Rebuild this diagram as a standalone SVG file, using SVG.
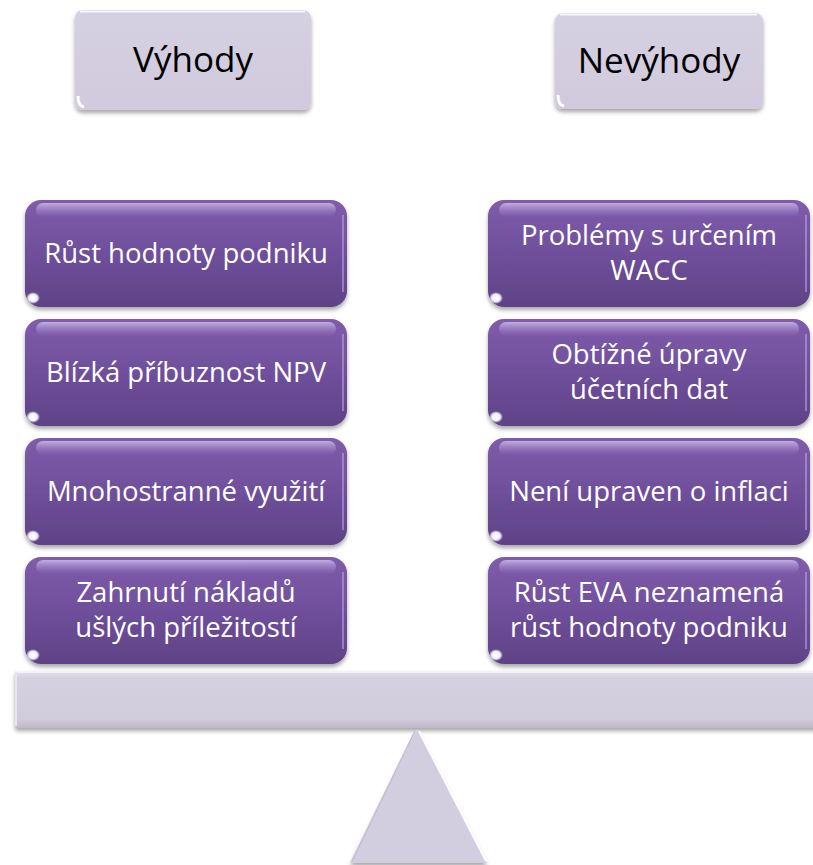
<svg xmlns="http://www.w3.org/2000/svg" width="813" height="865" viewBox="0 0 813 865">
  <defs>
    <linearGradient id="purpleFill" x1="0" y1="0" x2="0" y2="1">
      <stop offset="0" stop-color="#7f5cab"/>
      <stop offset="0.5" stop-color="#6f4f9b"/>
      <stop offset="1" stop-color="#5f4286"/>
    </linearGradient>
    <linearGradient id="gloss" x1="0" y1="0" x2="0" y2="1">
      <stop offset="0" stop-color="#c9b6e6" stop-opacity="0.9"/>
      <stop offset="1" stop-color="#a88ccf" stop-opacity="0"/>
    </linearGradient>
    <linearGradient id="lilacFill" x1="0" y1="0" x2="0" y2="1">
      <stop offset="0" stop-color="#d6d1e2"/>
      <stop offset="1" stop-color="#d0cadc"/>
    </linearGradient>
    <linearGradient id="barFill" x1="0" y1="0" x2="0" y2="1">
      <stop offset="0" stop-color="#e4e0ec"/>
      <stop offset="0.12" stop-color="#d6d1e1"/>
      <stop offset="0.85" stop-color="#d1ccdc"/>
      <stop offset="1" stop-color="#bdb7c9"/>
    </linearGradient>
    <radialGradient id="spot" cx="0.5" cy="0.5" r="0.5">
      <stop offset="0" stop-color="#ffffff"/>
      <stop offset="0.6" stop-color="#f4eefc"/>
      <stop offset="1" stop-color="#ffffff" stop-opacity="0"/>
    </radialGradient>
    <filter id="shadow" x="-10%" y="-10%" width="120%" height="130%">
      <feDropShadow dx="0" dy="3" stdDeviation="2.2" flood-color="#000" flood-opacity="0.35"/>
    </filter>
  </defs>
  <style>
    .head { fill: url(#lilacFill); filter: url(#shadow); }
    .headTxt { font-family: "Open Sans", "Liberation Sans", sans-serif; font-size: 35px; fill: #000; text-anchor: middle; }
    .card { fill: url(#purpleFill); filter: url(#shadow); }
    .gloss { fill: url(#gloss); }
    .edge { fill: none; stroke: #b9a2de; stroke-width: 1.5; stroke-opacity: 0.8; }
    .cardTxt { font-family: "Open Sans", "Liberation Sans", sans-serif; font-size: 27.5px; fill: #ffffff; text-anchor: middle; }
    .spot { fill: url(#spot); }
  </style>

  <!-- header: Výhody -->
  <g id="header-vyhody">
    <rect class="head" x="75" y="10" width="236" height="100" rx="8"/>
    <path d="M80 11.5 H305" stroke="#ffffff" stroke-width="2" opacity="0.8"/>
    <path d="M78 96 Q78 106 84 107" stroke="#ffffff" stroke-width="3" fill="none"/>
    <text class="headTxt" x="193" y="72">Výhody</text>
  </g>

  <!-- header: Nevýhody -->
  <g id="header-nevyhody">
    <rect class="head" x="555" y="13" width="208" height="96" rx="8"/>
    <path d="M560 14.5 H757" stroke="#ffffff" stroke-width="2" opacity="0.8"/>
    <path d="M558 95 Q558 105 564 106" stroke="#ffffff" stroke-width="3" fill="none"/>
    <text class="headTxt" x="659" y="73">Nevýhody</text>
  </g>

  <!-- advantages column -->
  <g id="adv-1">
    <rect class="card" x="25" y="200" width="322" height="107" rx="16"/>
    <rect class="gloss" x="36" y="203" width="300" height="14" rx="7"/>
    <path class="edge" d="M343 215 V292"/>
    <ellipse class="spot" cx="33" cy="298" rx="7" ry="6"/>
    <text class="cardTxt" x="186" y="263">Růst hodnoty podniku</text>
  </g>
  <g id="adv-2">
    <rect class="card" x="25" y="319" width="322" height="107" rx="16"/>
    <rect class="gloss" x="36" y="322" width="300" height="14" rx="7"/>
    <path class="edge" d="M343 334 V411"/>
    <ellipse class="spot" cx="33" cy="417" rx="7" ry="6"/>
    <text class="cardTxt" x="186" y="382">Blízká příbuznost NPV</text>
  </g>
  <g id="adv-3">
    <rect class="card" x="25" y="438" width="322" height="107" rx="16"/>
    <rect class="gloss" x="36" y="441" width="300" height="14" rx="7"/>
    <path class="edge" d="M343 453 V530"/>
    <ellipse class="spot" cx="33" cy="536" rx="7" ry="6"/>
    <text class="cardTxt" x="186" y="501">Mnohostranné využití</text>
  </g>
  <g id="adv-4">
    <rect class="card" x="25" y="557" width="322" height="107" rx="16"/>
    <rect class="gloss" x="36" y="560" width="300" height="14" rx="7"/>
    <path class="edge" d="M343 572 V649"/>
    <ellipse class="spot" cx="33" cy="655" rx="7" ry="6"/>
    <text class="cardTxt" x="186" y="602">Zahrnutí nákladů</text>
    <text class="cardTxt" x="186" y="637">ušlých příležitostí</text>
  </g>

  <!-- disadvantages column -->
  <g id="dis-1">
    <rect class="card" x="488" y="200" width="322" height="107" rx="16"/>
    <rect class="gloss" x="499" y="203" width="300" height="14" rx="7"/>
    <path class="edge" d="M806 215 V292"/>
    <ellipse class="spot" cx="496" cy="298" rx="7" ry="6"/>
    <text class="cardTxt" x="649" y="245">Problémy s určením</text>
    <text class="cardTxt" x="649" y="280">WACC</text>
  </g>
  <g id="dis-2">
    <rect class="card" x="488" y="319" width="322" height="107" rx="16"/>
    <rect class="gloss" x="499" y="322" width="300" height="14" rx="7"/>
    <path class="edge" d="M806 334 V411"/>
    <ellipse class="spot" cx="496" cy="417" rx="7" ry="6"/>
    <text class="cardTxt" x="649" y="364">Obtížné úpravy</text>
    <text class="cardTxt" x="649" y="399">účetních dat</text>
  </g>
  <g id="dis-3">
    <rect class="card" x="488" y="438" width="322" height="107" rx="16"/>
    <rect class="gloss" x="499" y="441" width="300" height="14" rx="7"/>
    <path class="edge" d="M806 453 V530"/>
    <ellipse class="spot" cx="496" cy="536" rx="7" ry="6"/>
    <text class="cardTxt" x="649" y="501">Není upraven o inflaci</text>
  </g>
  <g id="dis-4">
    <rect class="card" x="488" y="557" width="322" height="107" rx="16"/>
    <rect class="gloss" x="499" y="560" width="300" height="14" rx="7"/>
    <path class="edge" d="M806 572 V649"/>
    <ellipse class="spot" cx="496" cy="655" rx="7" ry="6"/>
    <text class="cardTxt" x="649" y="602">Růst EVA neznamená</text>
    <text class="cardTxt" x="649" y="637">růst hodnoty podniku</text>
  </g>

  <!-- balance beam -->
  <g id="beam">
    <rect x="15" y="671" width="810" height="57" rx="2" fill="url(#barFill)" filter="url(#shadow)"/>
    <path d="M16 672 H813" stroke="#f4f2f8" stroke-width="2"/>
    <path d="M16 672 V726" stroke="#e8e5ef" stroke-width="2"/>
  </g>

  <!-- fulcrum -->
  <g id="fulcrum">
    <polygon points="417,729 350,863 487,863" fill="#d3cedf" filter="url(#shadow)"/>
    <path d="M419 731 L486 861" stroke="#ffffff" stroke-width="2"/>
    <path d="M415 731 L352 861" stroke="#c4bed0" stroke-width="1.5"/>
  </g>
</svg>
